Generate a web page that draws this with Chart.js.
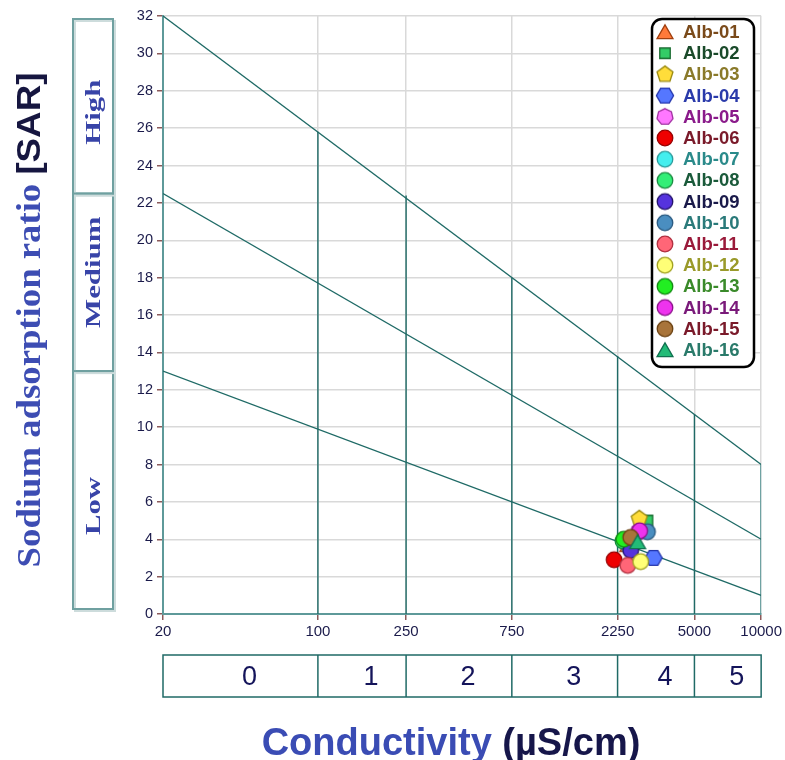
<!DOCTYPE html>
<html>
<head>
<meta charset="utf-8">
<script src="https://cdn.jsdelivr.net/npm/chart.js@4.4.0/dist/chart.umd.min.js"></script>
<style>
  html, body { margin: 0; padding: 0; background: #fff; }
  #wrap { position: relative; width: 785px; height: 760px; }
</style>
</head>
<body>
<div id="wrap"><canvas id="wilcox" width="785" height="760"></canvas></div>
<script>
// samples (EC in uS/cm, SAR)
const sampleNames = ['Alb-01','Alb-02','Alb-03','Alb-04','Alb-05','Alb-06','Alb-07','Alb-08',
                     'Alb-09','Alb-10','Alb-11','Alb-12','Alb-13','Alb-14','Alb-15','Alb-16'];
const conductivity = [2500, 3070, 2820, 3270, 2800, 2170, 2550, 2380,
                      2580, 3070, 2500, 2860, 2400, 2830, 2580, 2770];
const sarValues = [3.7, 5.0, 5.1, 3.0, 4.4, 2.9, 3.6, 3.9,
                   3.4, 4.4, 2.6, 2.8, 4.0, 4.45, 4.1, 3.85];

const markerShapes = ['triangle','square','pentagon','hexagon','heptagon','circle','circle','circle',
                      'circle','circle','circle','circle','circle','circle','circle','triangle'];
const markerFills = ['#ff7a3a','#33cc66','#ffdd3a','#5577ff','#ff77ff','#ee0000','#44eeee','#33ee77',
                     '#5533dd','#4a8ec0','#ff6677','#ffff77','#22ee22','#ee33ee','#a8743a','#22bb77'];
const markerEdges = ['#a04010','#1a6a30','#9a8a10','#2233aa','#a030a0','#990000','#2a9a9a','#1a8a40',
                     '#22116a','#2a5a80','#b03040','#a0a020','#118811','#8a108a','#6a4010','#117050'];
const labelColors = ['#7a4a1a','#1a4a2a','#8a7a2a','#2a3aaa','#8a1a8a','#7a1a2a','#2a8a8a','#1a5a3a',
                     '#1a1a4a','#2a7a7a','#9a1a3a','#9a9a2a','#3a8a2a','#7a1a7a','#7a1a2a','#2a7a6a'];

// axes
const xTicks = [20, 100, 250, 750, 2250, 5000, 10000];
const yMin = 0, yMax = 32, yStep = 2;

// sodium hazard boundaries: value at EC=20 and at EC=10000
const hazardLeft = [32, 22.5, 13];
const hazardRight = [8, 4, 1];
// salinity class breaks and the height where each meets the top boundary
const classBreaks = [100, 250, 750, 2250, 5000, 10000];
const classHeights = [25.8, 22.4, 18.0, 13.8, 10.7, 8];
const salinityClasses = ['0', '1', '2', '3', '4', '5'];
const hazardNames = ['Low', 'Medium', 'High'];
const hazardEdges = [0, 13, 22.5, 32];

const SANS = "'Liberation Sans', Arial, sans-serif";
const SERIF = "'Liberation Serif', 'Times New Roman', serif";
const LINE = '#1f6a66';

function markerImage(shape, fill, edge) {
  const c = document.createElement('canvas');
  c.width = 22; c.height = 22;
  const g = c.getContext('2d');
  const cx = 11, cy = 11;
  g.fillStyle = fill;
  g.strokeStyle = edge;
  g.lineWidth = 1.3;
  g.beginPath();
  if (shape === 'circle') {
    g.arc(cx, cy, 7.8, 0, Math.PI * 2);
  } else {
    const sides = { triangle: 3, square: 4, pentagon: 5, hexagon: 6, heptagon: 7 }[shape];
    const r = { triangle: 9.2, square: 7.4, pentagon: 8.4, hexagon: 8.6, heptagon: 8.2 }[shape];
    const start = shape === 'square' ? Math.PI / 4 : shape === 'hexagon' ? 0 : -Math.PI / 2;
    const dy = shape === 'triangle' ? 2 : 0;
    for (let k = 0; k < sides; k++) {
      const a = start + k * Math.PI * 2 / sides;
      const px = cx + r * Math.cos(a), py = cy + dy + r * Math.sin(a);
      if (k === 0) g.moveTo(px, py); else g.lineTo(px, py);
    }
    g.closePath();
  }
  g.fill();
  g.stroke();
  return c;
}

const markerImgs = sampleNames.map((n, i) => markerImage(markerShapes[i], markerFills[i], markerEdges[i]));

const boundaryDatasets = hazardLeft.map((v, i) => ({
  data: [{ x: xTicks[0], y: v }, { x: xTicks[xTicks.length - 1], y: hazardRight[i] }],
  showLine: true, borderColor: LINE, borderWidth: 1.4, pointRadius: 0, order: 100
}));
const classDatasets = classBreaks.map((v, i) => ({
  data: [{ x: v, y: 0 }, { x: v, y: classHeights[i] }],
  showLine: true, borderColor: i === classBreaks.length - 1 ? '#5e9999' : LINE,
  borderWidth: i === classBreaks.length - 1 ? 2 : 1.4, pointRadius: 0, order: 100
}));
const sampleDatasets = sampleNames.map((n, i) => ({
  label: n,
  data: [{ x: conductivity[i], y: sarValues[i] }],
  pointStyle: markerImgs[i],
  pointRadius: 8,
  order: 50 - i
}));

const decor = {
  id: 'decor',
  afterDraw(chart) {
    const ctx = chart.ctx;
    const xs = chart.scales.x, ys = chart.scales.y;
    const left = xs.left, right = xs.right;
    const labelShift = [16, -10, 6];

    // hazard boxes on the left
    for (let i = 0; i < hazardNames.length; i++) {
      const top = ys.getPixelForValue(hazardEdges[i + 1]) + (i === 2 ? 3 : 0);
      const bot = ys.getPixelForValue(hazardEdges[i]) - (i === 0 ? 5 : 0);
      ctx.save();
      ctx.strokeStyle = '#cddcdc';
      ctx.lineWidth = 2;
      ctx.strokeRect(75, top + 2, 40, bot - top);
      ctx.strokeStyle = '#6fa0a0';
      ctx.strokeRect(73, top, 40, bot - top);
      ctx.translate(93, (top + bot) / 2 + labelShift[i]);
      ctx.rotate(-Math.PI / 2);
      ctx.scale(1.4, 1);
      ctx.fillStyle = '#3844a8';
      ctx.font = 'bold 22px ' + SERIF;
      ctx.textAlign = 'center';
      ctx.textBaseline = 'middle';
      ctx.fillText(hazardNames[i], 0, 1);
      ctx.restore();
    }

    // y axis title
    ctx.save();
    ctx.translate(31, 320);
    ctx.rotate(-Math.PI / 2);
    ctx.scale(1.08, 1);
    ctx.textBaseline = 'middle';
    const partA = 'Sodium adsorption ratio ';
    const partB = '[SAR]';
    ctx.font = 'bold 34px ' + SERIF;
    const wA = ctx.measureText(partA).width;
    ctx.font = 'bold 34px ' + SANS;
    const wB = ctx.measureText(partB).width;
    const x0 = -(wA + wB) / 2;
    ctx.font = 'bold 34px ' + SERIF;
    ctx.fillStyle = '#3d4db3';
    ctx.fillText(partA, x0, 0);
    ctx.font = 'bold 34px ' + SANS;
    ctx.fillStyle = '#161640';
    ctx.fillText(partB, x0 + wA, 0);
    ctx.restore();

    // salinity class boxes under the axis
    const bTop = 655, bBot = 697;
    ctx.save();
    ctx.strokeStyle = LINE;
    ctx.lineWidth = 1.5;
    ctx.strokeRect(left, bTop, right - left, bBot - bTop);
    const edges = [xTicks[0]].concat(classBreaks);
    ctx.fillStyle = '#14145a';
    ctx.font = '27px ' + SANS;
    ctx.textAlign = 'center';
    ctx.textBaseline = 'middle';
    for (let i = 0; i < salinityClasses.length; i++) {
      const a = xs.getPixelForValue(edges[i]);
      const b = xs.getPixelForValue(edges[i + 1]);
      if (i > 0) {
        ctx.beginPath();
        ctx.moveTo(a, bTop);
        ctx.lineTo(a, bBot);
        ctx.stroke();
      }
      ctx.fillText(salinityClasses[i], (a + b) / 2 + 9, (bTop + bBot) / 2 + 2);
    }
    ctx.restore();

    // x axis title
    ctx.save();
    ctx.textBaseline = 'middle';
    ctx.font = 'bold 38px ' + SANS;
    const tA = 'Conductivity ', tB = '(µS/cm)';
    const w1 = ctx.measureText(tA).width, w2 = ctx.measureText(tB).width;
    const sx = 451 - (w1 + w2) / 2;
    ctx.fillStyle = '#3a4cb4';
    ctx.fillText(tA, sx, 745);
    ctx.fillStyle = '#16164a';
    ctx.fillText(tB, sx + w1, 745);
    ctx.restore();

    // legend box
    ctx.save();
    ctx.fillStyle = '#fff';
    ctx.strokeStyle = '#000';
    ctx.lineWidth = 2.5;
    ctx.beginPath();
    ctx.roundRect(652, 19, 102, 348, 10);
    ctx.fill();
    ctx.stroke();
    ctx.font = 'bold 18.5px ' + SANS;
    ctx.textBaseline = 'middle';
    for (let i = 0; i < sampleNames.length; i++) {
      const ry = 32 + i * 21.2;
      ctx.drawImage(markerImgs[i], 665 - 11, ry - 11);
      ctx.fillStyle = labelColors[i];
      ctx.fillText(sampleNames[i], 683, ry + 1);
    }
    ctx.restore();
  }
};

new Chart(document.getElementById('wilcox'), {
  type: 'scatter',
  data: { datasets: [...boundaryDatasets, ...classDatasets, ...sampleDatasets] },
  options: {
    responsive: false,
    animation: false,
    layout: { padding: { top: 16, right: 23, left: 0, bottom: 0 } },
    plugins: { legend: { display: false }, tooltip: { enabled: false } },
    scales: {
      x: {
        type: 'logarithmic',
        min: xTicks[0],
        max: xTicks[xTicks.length - 1],
        afterBuildTicks: (s) => { s.ticks = xTicks.map(v => ({ value: v })); },
        afterFit: (s) => { s.height = 146; },
        ticks: {
          autoSkip: false, maxRotation: 0, padding: 3,
          color: '#1a1a4a', font: { family: SANS, size: 15 },
          callback: (v) => String(v)
        },
        grid: { color: '#d9d9d9', lineWidth: 1.5, tickLength: 6, tickColor: '#8b5a5a' },
        border: { color: '#5e9999', width: 2 }
      },
      y: {
        min: yMin,
        max: yMax,
        afterFit: (s) => { s.width = 163; },
        ticks: { stepSize: yStep, padding: 4, color: '#1a1a4a', font: { family: SANS, size: 14.5 } },
        grid: { color: '#d9d9d9', lineWidth: 1.5, tickLength: 6, tickColor: '#8b5a5a' },
        border: { color: '#5e9999', width: 2 }
      }
    }
  },
  plugins: [decor]
});
</script>
</body>
</html>
